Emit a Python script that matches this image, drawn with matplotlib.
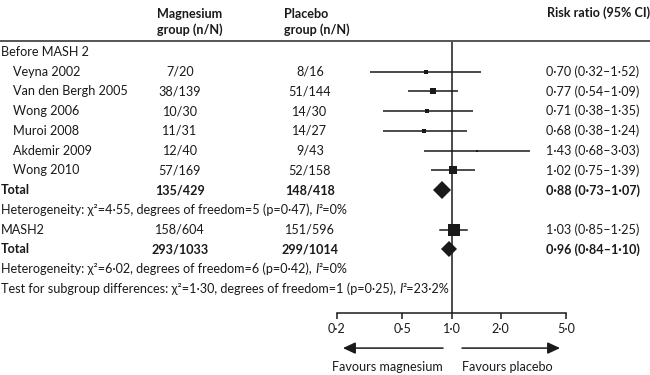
import matplotlib.pyplot as plt
from matplotlib import transforms
from matplotlib.lines import Line2D

plt.rcParams['font.family'] = ['Lato', 'DejaVu Sans']

# Individual trials before MASH 2
studies = ['Veyna 2002', 'Van den Bergh 2005', 'Wong 2006', 'Muroi 2008',
           'Akdemir 2009', 'Wong 2010']
mg_events = ['7/20', '38/139', '10/30', '11/31', '12/40', '57/169']
pl_events = ['8/16', '51/144', '14/30', '14/27', '9/43', '52/158']
rr = [0.70, 0.77, 0.71, 0.68, 1.43, 1.02]
rr_lo = [0.32, 0.54, 0.38, 0.38, 0.68, 0.75]
rr_hi = [1.52, 1.09, 1.35, 1.24, 3.03, 1.39]

# MASH 2 trial
mash2_mg = '158/604'
mash2_pl = '151/596'
mash2_rr, mash2_lo, mash2_hi = 1.03, 0.85, 1.25

# pooled totals (before MASH 2, all)
tot_mg = ['135/429', '293/1033']
tot_pl = ['148/418', '299/1014']
tot_rr = [0.88, 0.96]
tot_lo = [0.73, 0.84]
tot_hi = [1.07, 1.10]

het_main = ['Heterogeneity: χ²=4·55, degrees of freedom=5 (p=0·47), ',
            'Heterogeneity: χ²=6·02, degrees of freedom=6 (p=0·42), ',
            'Test for subgroup differences: χ²=1·30, degrees of freedom=1 (p=0·25), ']
het_i2 = ['0%', '0%', '23·2%']

ticks = [0.2, 0.5, 1.0, 2.0, 5.0]
tick_labels = ['0·2', '0·5', '1·0', '2·0', '5·0']


def fmt(v):
    return f'{v:.2f}'.replace('.', '·')


def ci_text(e, lo, hi):
    return f'{fmt(e)} ({fmt(lo)}–{fmt(hi)})'


W, H = 650, 375
INK = '#1a1a1a'
FS = 9.1

fig = plt.figure(figsize=(W / 100, H / 100), dpi=100)
ax = fig.add_axes([337 / W, (H - 313) / H, 229 / W, 272 / H])
ax.set_xscale('log')
ax.set_xlim(0.2, 5)
ax.set_ylim(13.22, -0.557)

# text columns: x in figure fraction, y in row units
tr = transforms.blended_transform_factory(fig.transFigure, ax.transData)
X_GRP, X_STUDY = 1 / W, 13 / W
X_MG, X_PL, X_RR = 180 / W, 310 / W, 546 / W


def txt(x, y, s, ha='left', bold=False, **kw):
    return ax.text(x, y, s, transform=tr, ha=ha, va='center', fontsize=FS,
                   color=INK, fontweight='bold' if bold else 'normal', **kw)


# header
for xx, s in [(157 / W, 'Magnesium\ngroup (n/N)'), (284 / W, 'Placebo\ngroup (n/N)')]:
    ax.text(xx, -1.54, s, transform=tr, ha='left', va='center', fontsize=FS,
            fontweight='bold', color=INK, linespacing=1.3)
txt(547 / W, -2.0, 'Risk ratio (95% CI)', bold=True)
fig.add_artist(Line2D([0, 1], [1 - 41 / H, 1 - 41 / H], transform=fig.transFigure,
                      color='#555555', lw=1.4))

txt(X_GRP, 0, 'Before MASH 2')

# individual trials
box_pt = [2.3, 4.4, 2.3, 2.3, 1.9, 5.9]
for i, name in enumerate(studies):
    y = i + 1
    txt(X_STUDY, y, name)
    txt(X_MG, y, mg_events[i], ha='center')
    txt(X_PL, y, pl_events[i], ha='center')
    txt(X_RR, y, ci_text(rr[i], rr_lo[i], rr_hi[i]))
    ax.plot([rr_lo[i], rr_hi[i]], [y, y], color=INK, lw=1.1, solid_capstyle='butt')
    ax.plot(rr[i], y, marker='s', ms=box_pt[i], color=INK, mec=INK, mew=0)

# MASH 2
txt(X_GRP, 9, 'MASH2')
txt(X_MG, 9, mash2_mg, ha='center')
txt(X_PL, 9, mash2_pl, ha='center')
txt(X_RR, 9, ci_text(mash2_rr, mash2_lo, mash2_hi))
ax.plot([mash2_lo, mash2_hi], [9, 9], color=INK, lw=1.1)
ax.plot(mash2_rr, 9, marker='s', ms=8.6, color=INK, mew=0)

# totals
diamond_pt = [9.6, 8.4]
for k, y in enumerate([7, 10]):
    txt(X_GRP, y, 'Total', bold=True)
    txt(X_MG, y, tot_mg[k], ha='center', bold=True)
    txt(X_PL, y, tot_pl[k], ha='center', bold=True)
    txt(X_RR, y, ci_text(tot_rr[k], tot_lo[k], tot_hi[k]), bold=True)
    ax.plot(tot_rr[k], y, marker='D', ms=diamond_pt[k], color=INK, mew=0)

# heterogeneity lines, italic I with superscript
for k, y in enumerate([8, 11, 12]):
    t = txt(X_GRP, y, het_main[k])
    t2 = ax.annotate('I', xy=(1, 0), xycoords=t, ha='left', va='bottom',
                     fontsize=FS, color=INK, style='italic')
    ax.annotate('²=' + het_i2[k], xy=(1, 0), xycoords=t2, ha='left', va='bottom',
                fontsize=FS, color=INK)

# null line and axis
ax.axvline(1.0, color=INK, lw=1.1)
for side in ['left', 'right', 'top']:
    ax.spines[side].set_visible(False)
ax.spines['bottom'].set_color(INK)
ax.spines['bottom'].set_linewidth(1.1)
ax.set_yticks([])
ax.set_xticks(ticks)
ax.set_xticklabels(tick_labels)
ax.minorticks_off()
ax.tick_params(axis='x', direction='out', length=4, width=1.1, color=INK,
               labelsize=FS, labelcolor=INK, pad=3)

# favours arrows
arrow = dict(arrowstyle='-|>,head_length=0.75,head_width=0.35', color=INK, lw=1.1,
             shrinkA=0, shrinkB=0)
ax.annotate('', xy=(0.026, -0.129), xytext=(0.463, -0.129), xycoords='axes fraction',
            arrowprops=arrow, annotation_clip=False)
ax.annotate('', xy=(0.974, -0.129), xytext=(0.546, -0.129), xycoords='axes fraction',
            arrowprops=arrow, annotation_clip=False)
ax.text(0.463, -0.199, 'Favours magnesium', transform=ax.transAxes, ha='right',
        va='center', fontsize=FS, color=INK)
ax.text(0.546, -0.199, 'Favours placebo', transform=ax.transAxes, ha='left',
        va='center', fontsize=FS, color=INK)

fig.savefig('out.png', dpi=100)
